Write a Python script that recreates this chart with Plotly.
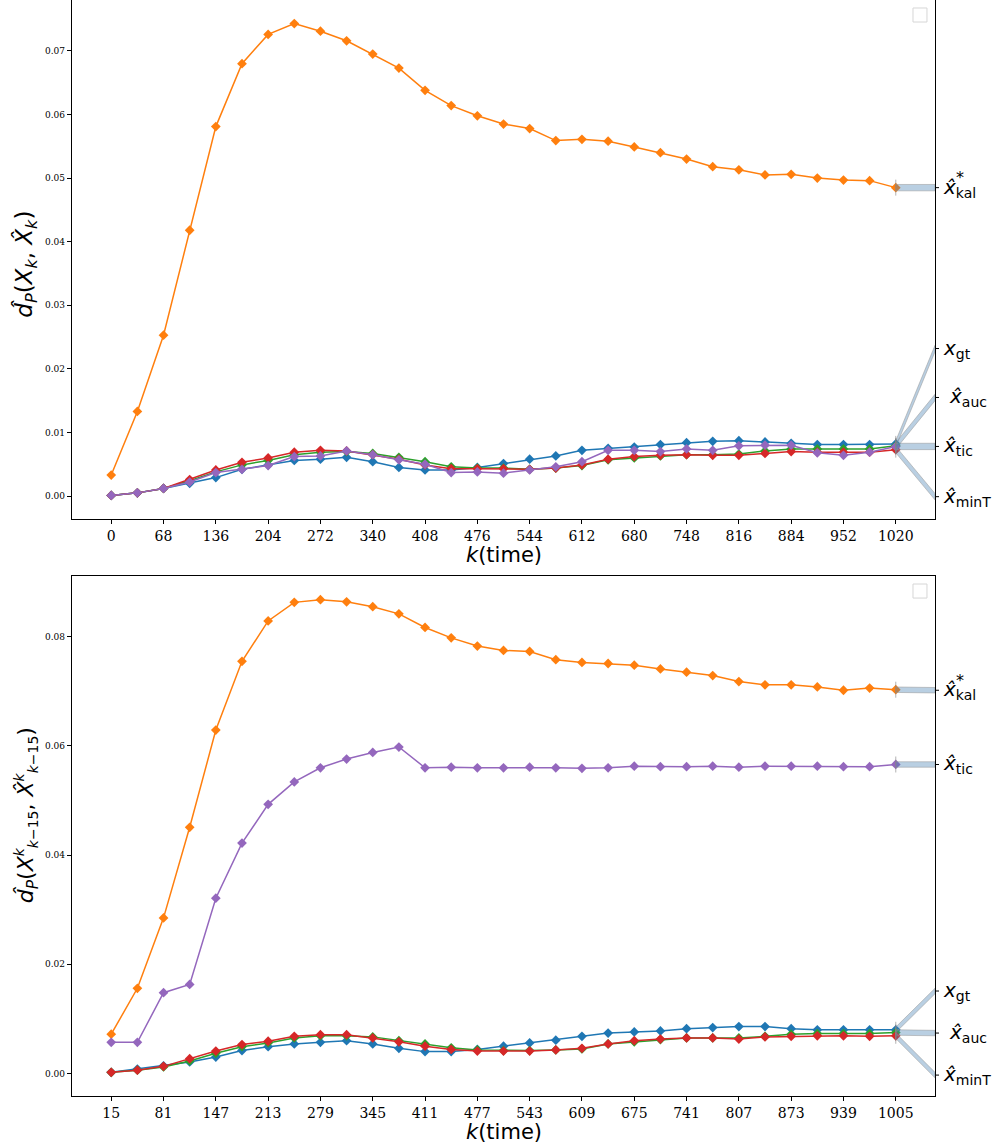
import plotly.graph_objects as go

# ---------------- data ----------------
k_top = [0, 34, 68, 102, 136, 170, 204, 238, 272, 306, 340, 374, 408, 442, 476, 510,
         544, 578, 612, 646, 680, 714, 748, 782, 816, 850, 884, 918, 952, 986, 1020]
k_bot = [15, 48, 81, 114, 147, 180, 213, 246, 279, 312, 345, 378, 411, 444, 477, 510,
         543, 576, 609, 642, 675, 708, 741, 774, 807, 840, 873, 906, 939, 972, 1005]

xt_top = [0, 68, 136, 204, 272, 340, 408, 476, 544, 612, 680, 748, 816, 884, 952, 1020]
xt_bot = [15, 81, 147, 213, 279, 345, 411, 477, 543, 609, 675, 741, 807, 873, 939, 1005]
yt_top = [0.00, 0.01, 0.02, 0.03, 0.04, 0.05, 0.06, 0.07]
yt_bot = [0.00, 0.02, 0.04, 0.06, 0.08]

gt_top = [0.0001, 0.0005, 0.0012, 0.0020, 0.0029, 0.0042, 0.0049, 0.0056, 0.0058, 0.0061, 0.0054,
          0.0045, 0.0041, 0.0041, 0.0045, 0.0051, 0.0058, 0.0063, 0.0072, 0.0075, 0.0077, 0.0081,
          0.0084, 0.0086, 0.0087, 0.0085, 0.0083, 0.0081, 0.0081, 0.0081, 0.0082]
kal_top = [0.0033, 0.0133, 0.0253, 0.0418, 0.0581, 0.0680, 0.0726, 0.0743, 0.0731, 0.0716, 0.0695,
           0.0673, 0.0638, 0.0614, 0.0598, 0.0585, 0.0578, 0.0559, 0.0561, 0.0558, 0.0549, 0.0540,
           0.0530, 0.0518, 0.0513, 0.0505, 0.0506, 0.0500, 0.0497, 0.0496, 0.0485]
auc_top = [0.0001, 0.0005, 0.0012, 0.0024, 0.0038, 0.0049, 0.0056, 0.0065, 0.0069, 0.0070, 0.0067,
           0.0061, 0.0054, 0.0046, 0.0044, 0.0044, 0.0042, 0.0044, 0.0048, 0.0057, 0.0060, 0.0063,
           0.0065, 0.0065, 0.0066, 0.0071, 0.0074, 0.0074, 0.0074, 0.0074, 0.0079]
minT_top = [0.0001, 0.0005, 0.0012, 0.0026, 0.0041, 0.0053, 0.0060, 0.0069, 0.0072, 0.0071, 0.0065,
            0.0058, 0.0049, 0.0043, 0.0043, 0.0043, 0.0042, 0.0044, 0.0049, 0.0058, 0.0062, 0.0064,
            0.0065, 0.0064, 0.0064, 0.0067, 0.0070, 0.0069, 0.0069, 0.0069, 0.0073]
tic_top = [0.0001, 0.0005, 0.0012, 0.0022, 0.0037, 0.0042, 0.0048, 0.0062, 0.0063, 0.0071, 0.0065,
           0.0057, 0.0050, 0.0037, 0.0038, 0.0036, 0.0041, 0.0046, 0.0054, 0.0072, 0.0072, 0.0070,
           0.0074, 0.0072, 0.0079, 0.0080, 0.0080, 0.0068, 0.0064, 0.0069, 0.0078]

gt_bot = [0.0002, 0.0008, 0.0014, 0.0021, 0.0030, 0.0042, 0.0049, 0.0054, 0.0057, 0.0060, 0.0054,
          0.0046, 0.0040, 0.0040, 0.0044, 0.0050, 0.0056, 0.0061, 0.0068, 0.0074, 0.0076, 0.0078,
          0.0082, 0.0084, 0.0086, 0.0086, 0.0082, 0.0080, 0.0080, 0.0080, 0.0080]
kal_bot = [0.0072, 0.0156, 0.0285, 0.0451, 0.0629, 0.0755, 0.0829, 0.0863, 0.0868, 0.0864, 0.0855,
           0.0842, 0.0817, 0.0798, 0.0783, 0.0775, 0.0773, 0.0758, 0.0753, 0.0751, 0.0748, 0.0741,
           0.0735, 0.0729, 0.0718, 0.0712, 0.0712, 0.0708, 0.0702, 0.0706, 0.0703]
auc_bot = [0.0002, 0.0006, 0.0012, 0.0023, 0.0037, 0.0049, 0.0056, 0.0065, 0.0069, 0.0069, 0.0067,
           0.0060, 0.0054, 0.0047, 0.0043, 0.0042, 0.0042, 0.0043, 0.0045, 0.0054, 0.0058, 0.0062,
           0.0065, 0.0065, 0.0065, 0.0068, 0.0072, 0.0073, 0.0073, 0.0073, 0.0075]
minT_bot = [0.0002, 0.0006, 0.0013, 0.0027, 0.0041, 0.0053, 0.0059, 0.0068, 0.0071, 0.0071, 0.0065,
            0.0058, 0.0050, 0.0044, 0.0041, 0.0041, 0.0041, 0.0043, 0.0046, 0.0054, 0.0060, 0.0063,
            0.0065, 0.0065, 0.0063, 0.0067, 0.0068, 0.0069, 0.0069, 0.0068, 0.0069]
tic_bot = [0.0057, 0.0057, 0.0148, 0.0163, 0.0321, 0.0422, 0.0493, 0.0534, 0.0560, 0.0576, 0.0588,
           0.0598, 0.0560, 0.0561, 0.0560, 0.0560, 0.0561, 0.0560, 0.0559, 0.0560, 0.0563, 0.0562,
           0.0562, 0.0563, 0.0561, 0.0563, 0.0563, 0.0563, 0.0562, 0.0562, 0.0566]

series_names = ["gt", "kal", "auc", "minT", "tic"]
series_colors = ["#1f77b4", "#ff7f0e", "#2ca02c", "#d62728", "#9467bd"]

# right-hand label positions (value on the axis where each label sits)
labelpos_top = {"gt": 0.0232, "kal": 0.0485, "auc": 0.0155, "minT": -0.0001, "tic": 0.0078}
labelpos_bot = {"gt": 0.0151, "kal": 0.0702, "auc": 0.0074, "minT": -0.0003, "tic": 0.0566}

label_text = {
    "gt": "<i>x</i><sub>gt</sub>",
    "kal": "<i>x̂</i><sub>kal</sub>",
    "auc": "<i>x̂</i><sub>auc</sub>",
    "minT": "<i>x̂</i><sub>minT</sub>",
    "tic": "<i>x̂</i><sub>tic</sub>",
}
label_xshift = {"gt": 6, "kal": 6, "auc": 12, "minT": 6, "tic": 6}

S = '<span style="font-size:14px">'
ytitle_top = "<i>d̂</i><sub><i>P</i></sub>(<i>X</i><sub><i>k</i></sub>, <i>X̂</i><sub><i>k</i></sub>)"
ytitle_bot = ("<i>d̂</i><sub><i>P</i></sub>(<i>X</i>"
              f"<sup>{S}<i>k</i></span></sup><sub>{S}<i>k</i>−15</span></sub>, <i>X̂</i>"
              f"<sup>{S}<i>k</i></span></sup><sub>{S}<i>k</i>−15</span></sub>)")

# --------------- figure ---------------
W, H = 1002, 1147
ML, MR, MT, MB = 72, 67, 0, 51
plot_h = H - MT - MB
top_dom = [1 - 519 / plot_h, 1.0]
bot_dom = [0.0, (1096 - 576) / plot_h]

fig = go.Figure()

panels = [
    dict(k=k_top, data=[gt_top, kal_top, auc_top, minT_top, tic_top], xa="x", ya="y",
         labelpos=labelpos_top, xt=xt_top, yt=yt_top, dom=top_dom,
         ytitle=ytitle_top, ytitle_y=0.49, ytitle_size=23),
    dict(k=k_bot, data=[gt_bot, kal_bot, auc_bot, minT_bot, tic_bot], xa="x2", ya="y2",
         labelpos=labelpos_bot, xt=xt_bot, yt=yt_bot, dom=bot_dom,
         ytitle=ytitle_bot, ytitle_y=0.54, ytitle_size=22),
]

shapes = []
annotations = []
for pi, p in enumerate(panels):
    k = p["k"]
    # ranges with 5% margins like matplotlib
    allv = [v for s in p["data"] for v in s]
    vmin, vmax = min(allv), max(allv)
    ypad = 0.05 * (vmax - vmin)
    yr = [vmin - ypad, vmax + ypad]
    xpad = 0.05 * (k[-1] - k[0])
    xr = [k[0] - xpad, k[-1] + xpad]
    half = 0.0005

    for name, col, vals in zip(series_names, series_colors, p["data"]):
        fig.add_trace(go.Scatter(
            x=k, y=vals, mode="lines+markers", xaxis=p["xa"], yaxis=p["ya"],
            line=dict(color=col, width=1.5),
            marker=dict(symbol="diamond", size=7.5, color=col),
            showlegend=False, name=name))
        lp = p["labelpos"][name]
        x0, v0 = k[-1], vals[-1]
        x1 = xr[1]
        path = (f"M {x0},{v0 - half} L {x1},{lp - half} L {x1},{lp + half} "
                f"L {x0},{v0 + half} Z")
        shapes.append(dict(type="path", path=path, xref=p["xa"], yref=p["ya"],
                           fillcolor="rgba(70,130,180,0.38)",
                           line=dict(color="rgba(150,150,150,0.5)", width=1), layer="above"))
        shapes.append(dict(type="line", xref=p["xa"], yref=p["ya"], x0=x0, x1=x0,
                           ysizemode="pixel", yanchor=v0, y0=-8, y1=8,
                           line=dict(color="rgba(128,128,128,0.6)", width=1), layer="above"))
        # right-side tick mark
        shapes.append(dict(type="line", xref=f"{p['xa']} domain", yref=p["ya"],
                           xsizemode="pixel", xanchor=1, x0=0, x1=4, y0=lp, y1=lp,
                           line=dict(color="black", width=1)))
        annotations.append(dict(text=label_text[name], xref=f"{p['xa']} domain", yref=p["ya"],
                                x=1, y=lp, xanchor="left", yanchor="middle",
                                xshift=label_xshift[name], showarrow=False,
                                font=dict(family="DejaVu Sans", size=20, color="black")))
        if name == "kal":
            annotations.append(dict(text="*", xref=f"{p['xa']} domain", yref=p["ya"],
                                    x=1, y=lp, xanchor="left", yanchor="middle",
                                    xshift=19, yshift=10, showarrow=False,
                                    font=dict(family="DejaVu Sans", size=16, color="black")))

    # empty legend box
    shapes.append(dict(type="rect", xref=f"{p['xa']} domain", yref=f"{p['ya']} domain",
                       x0=0.9745, x1=0.9907, y0=0.9576, y1=0.9846,
                       line=dict(color="#d6d6d6", width=1), fillcolor="white"))

    axis_common = dict(showline=True, linecolor="black", linewidth=1.3, mirror=True,
                       ticks="outside", ticklen=4, tickcolor="black", showgrid=False,
                       zeroline=False)
    xkey = "xaxis" if pi == 0 else "xaxis2"
    ykey = "yaxis" if pi == 0 else "yaxis2"
    fig.update_layout(**{
        xkey: dict(axis_common, range=xr, tickvals=p["xt"], anchor=p["ya"],
                   tickfont=dict(family="DejaVu Serif", size=14, color="black")),
        ykey: dict(axis_common, range=yr, tickvals=p["yt"], tickformat=".2f", domain=p["dom"],
                   anchor=p["xa"], tickfont=dict(family="DejaVu Serif", size=9, color="black")),
    })
    annotations.append(dict(text="<i>k</i>(time)", xref=f"{p['xa']} domain",
                            yref=f"{p['ya']} domain", x=0.5, y=0, yanchor="middle",
                            yshift=-36, showarrow=False,
                            font=dict(family="DejaVu Sans", size=21, color="black")))
    annotations.append(dict(text=p["ytitle"], xref=f"{p['xa']} domain",
                            yref=f"{p['ya']} domain", x=0, y=p["ytitle_y"], xanchor="center",
                            yanchor="middle", xshift=-46, textangle=-90, showarrow=False,
                            font=dict(family="DejaVu Sans", size=p["ytitle_size"], color="black")))

fig.update_layout(
    width=W, height=H, margin=dict(l=ML, r=MR, t=MT, b=MB),
    paper_bgcolor="white", plot_bgcolor="white",
    shapes=shapes, annotations=annotations, showlegend=False,
)

fig.write_html("out.html", config={"displayModeBar": False},
               post_script="document.body.style.margin='0';document.body.style.padding='0';")
